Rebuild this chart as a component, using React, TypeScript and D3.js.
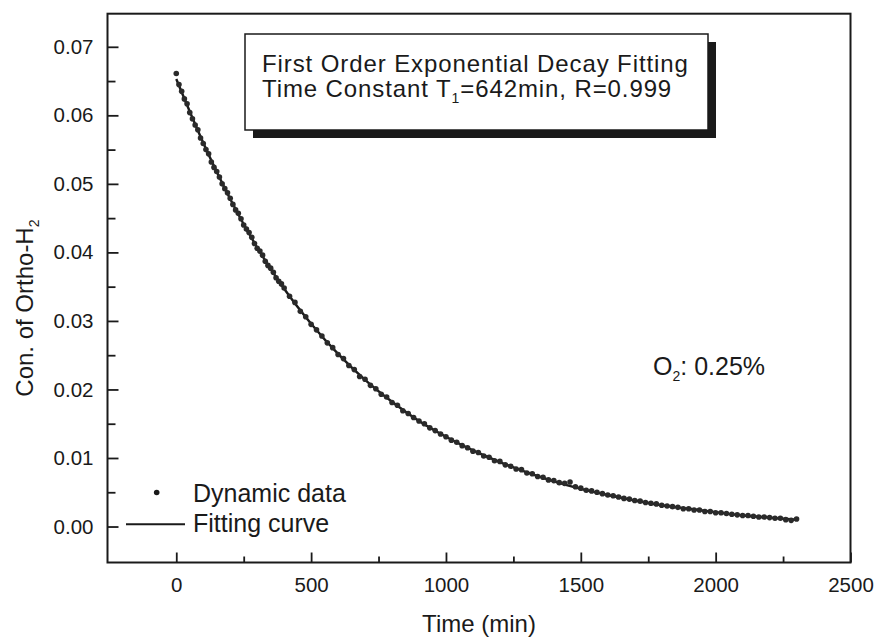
import React, { useEffect, useRef } from 'react';
import * as d3 from 'd3';

// measured points (min, fraction)
const dataTimes = [
  0, 10, 20, 30, 40, 50, 60, 70, 80, 90, 100, 110, 120, 130, 140, 150, 160, 170, 180, 190,
  200, 210, 220, 230, 240, 250, 260, 270, 280, 290, 300, 310, 320, 330, 340, 350, 360, 370, 380, 390, 400,
  420, 440, 460, 480, 500, 520, 540, 560, 580, 600, 620, 640, 660, 680, 700, 720, 740, 760, 780,
  800, 820, 840, 860, 880, 900, 920, 940, 960, 980, 1000, 1020, 1040, 1060, 1080, 1100, 1120, 1140, 1160, 1180,
  1200, 1220, 1240, 1260, 1280, 1300, 1320, 1340, 1360, 1380, 1400, 1420, 1440, 1460, 1480, 1500, 1520, 1540, 1560, 1580,
  1600, 1620, 1640, 1660, 1680, 1700, 1720, 1740, 1760, 1780, 1800, 1820, 1840, 1860, 1880, 1900, 1920, 1940, 1960, 1980,
  2000, 2020, 2040, 2060, 2080, 2100, 2120, 2140, 2160, 2180, 2200, 2220, 2240, 2260, 2280, 2300,
];
const dataValues = [
  0.0661, 0.0645, 0.0635, 0.0624, 0.0617, 0.0604, 0.0595, 0.0586, 0.0579, 0.0567, 0.0559, 0.0550, 0.0544, 0.0532, 0.0524, 0.0518, 0.0510, 0.0500, 0.0493, 0.0487,
  0.0479, 0.0470, 0.0462, 0.0457, 0.0449, 0.0440, 0.0434, 0.0429, 0.0422, 0.0413, 0.0406, 0.0402, 0.0396, 0.0387, 0.0381, 0.0377, 0.0371, 0.0363, 0.0358, 0.0354, 0.0348,
  0.0336, 0.0327, 0.0314, 0.0306, 0.0295, 0.0287, 0.0278, 0.0268, 0.0261, 0.0251, 0.0245, 0.0235, 0.0229, 0.0219, 0.0215, 0.0206, 0.0201, 0.0193, 0.0189,
  0.0181, 0.0177, 0.0169, 0.0165, 0.0159, 0.0154, 0.0150, 0.0144, 0.0140, 0.0135, 0.0131, 0.0126, 0.0123, 0.0118, 0.0115, 0.0110, 0.0108, 0.0103, 0.0101, 0.0096,
  0.0095, 0.0090, 0.0088, 0.0084, 0.0083, 0.0078, 0.0077, 0.0073, 0.0072, 0.0068, 0.0067, 0.0064, 0.0063, 0.0065, 0.0058, 0.0056, 0.0053, 0.0052, 0.0050, 0.0048,
  0.0046, 0.0045, 0.0043, 0.0041, 0.0040, 0.0038, 0.0037, 0.0035, 0.0034, 0.0033, 0.0031, 0.0030, 0.0029, 0.0028, 0.0026, 0.0026, 0.0024, 0.0024, 0.0022, 0.0022,
  0.0020, 0.0020, 0.0019, 0.0018, 0.0017, 0.0016, 0.0016, 0.0015, 0.0014, 0.0014, 0.0013, 0.0012, 0.0012, 0.0010, 0.0009, 0.0011,
];

// fitted curve, T1 = 642 min
const fitTimes = [0, 100, 200, 300, 400, 500, 600, 700, 800, 900, 1000, 1100, 1200, 1300, 1400, 1500, 1600, 1700, 1800, 1900, 2000, 2100, 2200, 2300];
const fitValues = [
  0.0653, 0.0560, 0.0478, 0.0407, 0.0347, 0.0296, 0.0252, 0.0214, 0.0182, 0.0154, 0.0131, 0.0111,
  0.0094, 0.0079, 0.0066, 0.0055, 0.0046, 0.0038, 0.0031, 0.0026, 0.0021, 0.0016, 0.0013, 0.0010,
];

const xTicks = [0, 500, 1000, 1500, 2000, 2500];
const xTickLabels = ['0', '500', '1000', '1500', '2000', '2500'];
const xMinorTicks = [250, 750, 1250, 1750, 2250];
const yTicks = [0, 0.01, 0.02, 0.03, 0.04, 0.05, 0.06, 0.07];
const yTickLabels = ['0.00', '0.01', '0.02', '0.03', '0.04', '0.05', '0.06', '0.07'];
const yMinorTicks = [0.005, 0.015, 0.025, 0.035, 0.045, 0.055, 0.065];

const FONT = '"Liberation Sans", Arial, Helvetica, sans-serif';
const INK = '#1a1a1a';

function DecayChart() {
  const svgRef = useRef<SVGSVGElement>(null);

  useEffect(() => {
    const svg = d3.select(svgRef.current);
    svg.selectAll('*').remove();

    const left = 107.5, right = 850.5, top = 13.7, bottom = 562.5;

    const x = d3.scaleLinear().domain([-255, 2500]).range([left, right]);
    const y = d3.scaleLinear().domain([-0.00525, 0.07483]).range([bottom, top]);

    // x axis, ticks pointing in
    const xAxis = svg.append('g')
      .attr('transform', `translate(0,${bottom})`)
      .call(d3.axisBottom(x).tickValues(xTicks)
        .tickFormat((d, i) => xTickLabels[i])
        .tickSizeInner(-10).tickSizeOuter(0).tickPadding(15));
    svg.append('g')
      .attr('transform', `translate(0,${bottom})`)
      .call(d3.axisBottom(x).tickValues(xMinorTicks).tickFormat(() => '')
        .tickSizeInner(-6).tickSizeOuter(0));

    const yAxis = svg.append('g')
      .attr('transform', `translate(${left},0)`)
      .call(d3.axisLeft(y).tickValues(yTicks)
        .tickFormat((d, i) => yTickLabels[i])
        .tickSizeInner(-11).tickSizeOuter(0).tickPadding(14));
    svg.append('g')
      .attr('transform', `translate(${left},0)`)
      .call(d3.axisLeft(y).tickValues(yMinorTicks).tickFormat(() => '')
        .tickSizeInner(-8).tickSizeOuter(0));

    svg.selectAll('.domain').remove();
    svg.selectAll('.tick line').attr('stroke', INK).attr('stroke-width', 1.8);
    [xAxis, yAxis].forEach(a => a.selectAll('text')
      .attr('font-family', FONT).attr('font-size', 20.5).attr('fill', INK));

    // frame
    svg.append('rect')
      .attr('x', left).attr('y', top)
      .attr('width', right - left).attr('height', bottom - top)
      .attr('fill', 'none').attr('stroke', INK).attr('stroke-width', 2);

    // fitting curve
    const line = d3.line<number>()
      .x((d, i) => x(fitTimes[i]))
      .y(d => y(d))
      .curve(d3.curveMonotoneX);
    svg.append('path')
      .datum(fitValues)
      .attr('fill', 'none')
      .attr('stroke', INK)
      .attr('stroke-width', 2.4)
      .attr('d', line);

    // dynamic data
    svg.append('g')
      .selectAll('circle')
      .data(dataValues)
      .join('circle')
      .attr('cx', (d, i) => x(dataTimes[i]))
      .attr('cy', d => y(d))
      .attr('r', 2.8)
      .attr('fill', '#2a2a2a');

    // annotation box with drop shadow
    const box = { x: 245, y: 34, w: 463, h: 96 };
    svg.append('rect')
      .attr('x', box.x + 8).attr('y', box.y + 8)
      .attr('width', box.w).attr('height', box.h)
      .attr('fill', INK);
    svg.append('rect')
      .attr('x', box.x).attr('y', box.y)
      .attr('width', box.w).attr('height', box.h)
      .attr('fill', 'white').attr('stroke', INK).attr('stroke-width', 1.5);

    const note = svg.append('g')
      .attr('font-family', FONT).attr('font-size', 24).attr('fill', INK)
      .attr('letter-spacing', 0.9);
    note.append('text').attr('x', 262).attr('y', 72)
      .text('First Order Exponential Decay Fitting');
    const l2 = note.append('text').attr('x', 262).attr('y', 97);
    l2.append('tspan').text('Time Constant T');
    l2.append('tspan').attr('font-size', 14).attr('dy', 6).text('1');
    l2.append('tspan').attr('dy', -6).text('=642min, R=0.999');

    // O2 label
    const o2 = svg.append('text')
      .attr('x', 653).attr('y', 375)
      .attr('font-family', FONT).attr('font-size', 25).attr('fill', INK);
    o2.append('tspan').text('O');
    o2.append('tspan').attr('font-size', 14).attr('dy', 6).text('2');
    o2.append('tspan').attr('dy', -6).text(': 0.25%');

    // legend
    const legend = svg.append('g')
      .attr('font-family', FONT).attr('font-size', 25).attr('fill', INK);
    legend.append('circle').attr('cx', 156.7).attr('cy', 492.5).attr('r', 2.8).attr('fill', INK);
    legend.append('text').attr('x', 193).attr('y', 501.5).text('Dynamic data');
    legend.append('line')
      .attr('x1', 126).attr('x2', 185).attr('y1', 524.3).attr('y2', 524.3)
      .attr('stroke', INK).attr('stroke-width', 2);
    legend.append('text').attr('x', 193).attr('y', 531.5).text('Fitting curve');

    // axis titles
    svg.append('text')
      .attr('x', (left + right) / 2).attr('y', 632)
      .attr('text-anchor', 'middle')
      .attr('font-family', FONT).attr('font-size', 24).attr('fill', INK)
      .text('Time (min)');
    const yt = svg.append('text')
      .attr('transform', `translate(33,${(top + bottom) / 2 + 20}) rotate(-90)`)
      .attr('text-anchor', 'middle')
      .attr('font-family', FONT).attr('font-size', 24).attr('fill', INK);
    yt.append('tspan').text('Con. of Ortho-H');
    yt.append('tspan').attr('font-size', 14).attr('dy', 6).text('2');
  }, []);

  return (
    <svg
      ref={svgRef}
      width={876}
      height={637}
      style={{ position: 'absolute', left: 0, top: 0, background: 'white' }}
    />
  );
}

export default function App() {
  return <DecayChart />;
}
